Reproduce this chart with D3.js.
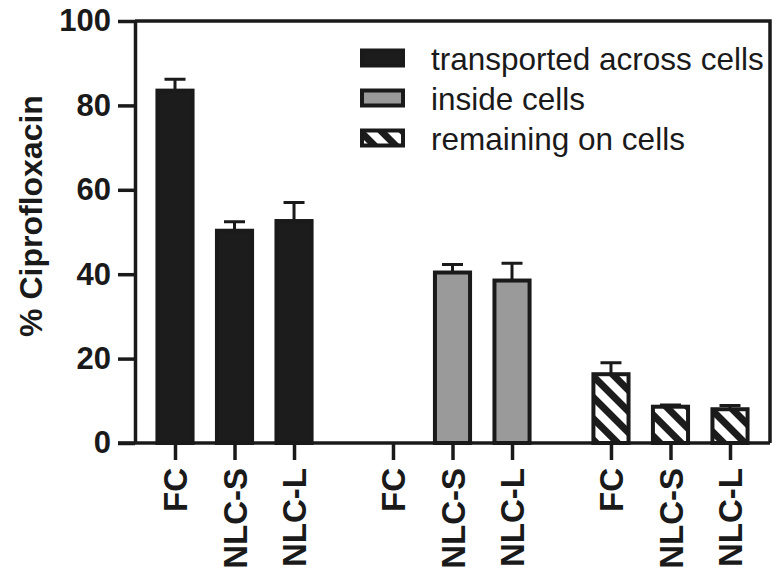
<!DOCTYPE html>
<html>
<head>
<meta charset="utf-8">
<script src="https://cdn.jsdelivr.net/npm/d3@7"></script>
<style>
  body { margin: 0; background: #fff; }
  text { font-family: "Liberation Sans", Arial, sans-serif; fill: #1a1a1a; }
</style>
</head>
<body>
<script>
// groups (one per legend entry) and formulations inside each group
const groups = ["transported across cells", "inside cells", "remaining on cells"]
const formulations = ["FC", "NLC-S", "NLC-L"]

// mean % ciprofloxacin
const transported = [83.5, 50.3, 52.6]
const transportedErr = [2.7, 2.1, 4.4]
const inside = [0, 40.4, 38.5]
const insideErr = [0, 1.9, 4.1]
const remaining = [16.3, 8.6, 8.0]
const remainingErr = [2.7, 0.4, 0.9]

const yTicks = [0, 20, 40, 60, 80, 100]

const values = [transported, inside, remaining]
const errors = [transportedErr, insideErr, remainingErr]
const fills = ["#1c1c1c", "#9a9a9a", "url(#hatch)"]

const w = 780
const h = 571
const plotLeft = 135
const plotRight = 770
const plotTop = 21
const plotBottom = 443

const svg = d3.select("body")
  .append("svg")
  .attr("width", w)
  .attr("height", h)

// diagonal stripes for the third group
svg.append("defs")
  .append("pattern")
  .attr("id", "hatch")
  .attr("patternUnits", "userSpaceOnUse")
  .attr("width", 15)
  .attr("height", 15)
  .attr("patternTransform", "rotate(-45)")
  .call(p => {
    p.append("rect").attr("width", 15).attr("height", 15).attr("fill", "#fff")
    p.append("rect").attr("width", 7).attr("height", 15).attr("fill", "#1c1c1c")
  })

const yScale = d3.scaleLinear()
  .domain([0, 100])
  .range([plotBottom, plotTop])

const xGroup = d3.scaleBand()
  .domain(groups)
  .range([plotLeft, plotRight])
  .paddingInner(0.181)
  .paddingOuter(0.047)

const xInner = d3.scaleBand()
  .domain(formulations)
  .range([0, xGroup.bandwidth()])
  .paddingInner(0.41)
  .paddingOuter(0.205)

const data = []
groups.forEach((g, gi) => {
  formulations.forEach((f, fi) => {
    data.push({ group: g, name: f, value: values[gi][fi], err: errors[gi][fi], fill: fills[gi] })
  })
})

const cx = (d) => xGroup(d.group) + xInner(d.name) + xInner.bandwidth() / 2

// frame on top and right
svg.append("path")
  .attr("d", "M" + plotLeft + "," + plotTop + "H" + plotRight + "V" + plotBottom)
  .attr("fill", "none")
  .attr("stroke", "#1a1a1a")
  .attr("stroke-width", 3.5)

// error bars (upper only)
const bars = data.filter(d => d.value > 0)
svg.selectAll("path.err")
  .data(bars)
  .enter()
  .append("path")
  .attr("class", "err")
  .attr("d", d => "M" + cx(d) + "," + yScale(d.value) + "V" + yScale(d.value + d.err)
    + "M" + (cx(d) - 10.5) + "," + yScale(d.value + d.err) + "H" + (cx(d) + 10.5))
  .attr("fill", "none")
  .attr("stroke", "#1a1a1a")
  .attr("stroke-width", 3)

svg.selectAll("rect.bar")
  .data(bars)
  .enter()
  .append("rect")
  .attr("class", "bar")
  .attr("x", d => xGroup(d.group) + xInner(d.name))
  .attr("y", d => yScale(d.value))
  .attr("width", xInner.bandwidth())
  .attr("height", d => plotBottom - yScale(d.value))
  .attr("fill", d => d.fill)
  .attr("stroke", "#1a1a1a")
  .attr("stroke-width", 4)

// y axis
const yAxis = d3.axisLeft(yScale)
  .tickValues(yTicks)
  .tickSize(17)
  .tickPadding(7)
  .tickSizeOuter(0)
svg.append("g")
  .attr("transform", "translate(" + plotLeft + ",0)")
  .call(yAxis)
  .call(g => g.selectAll("line, path").attr("stroke", "#1a1a1a").attr("stroke-width", 3.5))
  .call(g => g.selectAll("text")
    .style("font-size", "31px")
    .style("font-weight", "bold")
    .attr("fill", "#1a1a1a")
    .attr("font-family", null))

// x axis with one tick per bar
const xTickScale = d3.scaleOrdinal()
  .domain(data.map((d, i) => i))
  .range(data.map(d => cx(d)))
const xAxis = d3.axisBottom(xTickScale)
  .tickFormat(i => data[i].name)
  .tickSize(17)
  .tickSizeOuter(0)
const xg = svg.append("g")
  .attr("transform", "translate(0," + plotBottom + ")")
  .call(xAxis)
xg.select("path.domain")
  .attr("d", "M" + (plotLeft - 17) + ",0H" + plotRight)
xg.selectAll("line, path").attr("stroke", "#1a1a1a").attr("stroke-width", 3.5)
xg.selectAll("text")
  .attr("transform", "rotate(-90)")
  .attr("x", -25)
  .attr("y", 0)
  .attr("dy", "0.36em")
  .attr("text-anchor", "end")
  .attr("fill", "#1a1a1a")
  .attr("font-family", null)
  .style("font-size", "33px")
  .style("font-weight", "bold")

// y axis title
svg.append("text")
  .attr("transform", "translate(42,216) rotate(-90)")
  .attr("text-anchor", "middle")
  .style("font-size", "32px")
  .style("font-weight", "bold")
  .text("% Ciprofloxacin")

// legend
const legend = svg.append("g")
  .selectAll("g")
  .data(groups)
  .enter()
  .append("g")
  .attr("transform", (d, i) => "translate(362," + (58 + i * 40) + ")")

legend.append("rect")
  .attr("x", 0)
  .attr("y", -7.5)
  .attr("width", 41)
  .attr("height", 15)
  .attr("fill", (d, i) => fills[i])
  .attr("stroke", "#1a1a1a")
  .attr("stroke-width", 4)

legend.append("text")
  .attr("x", 69)
  .attr("y", 12)
  .style("font-size", "31.5px")
  .text(d => d)
</script>
</body>
</html>
